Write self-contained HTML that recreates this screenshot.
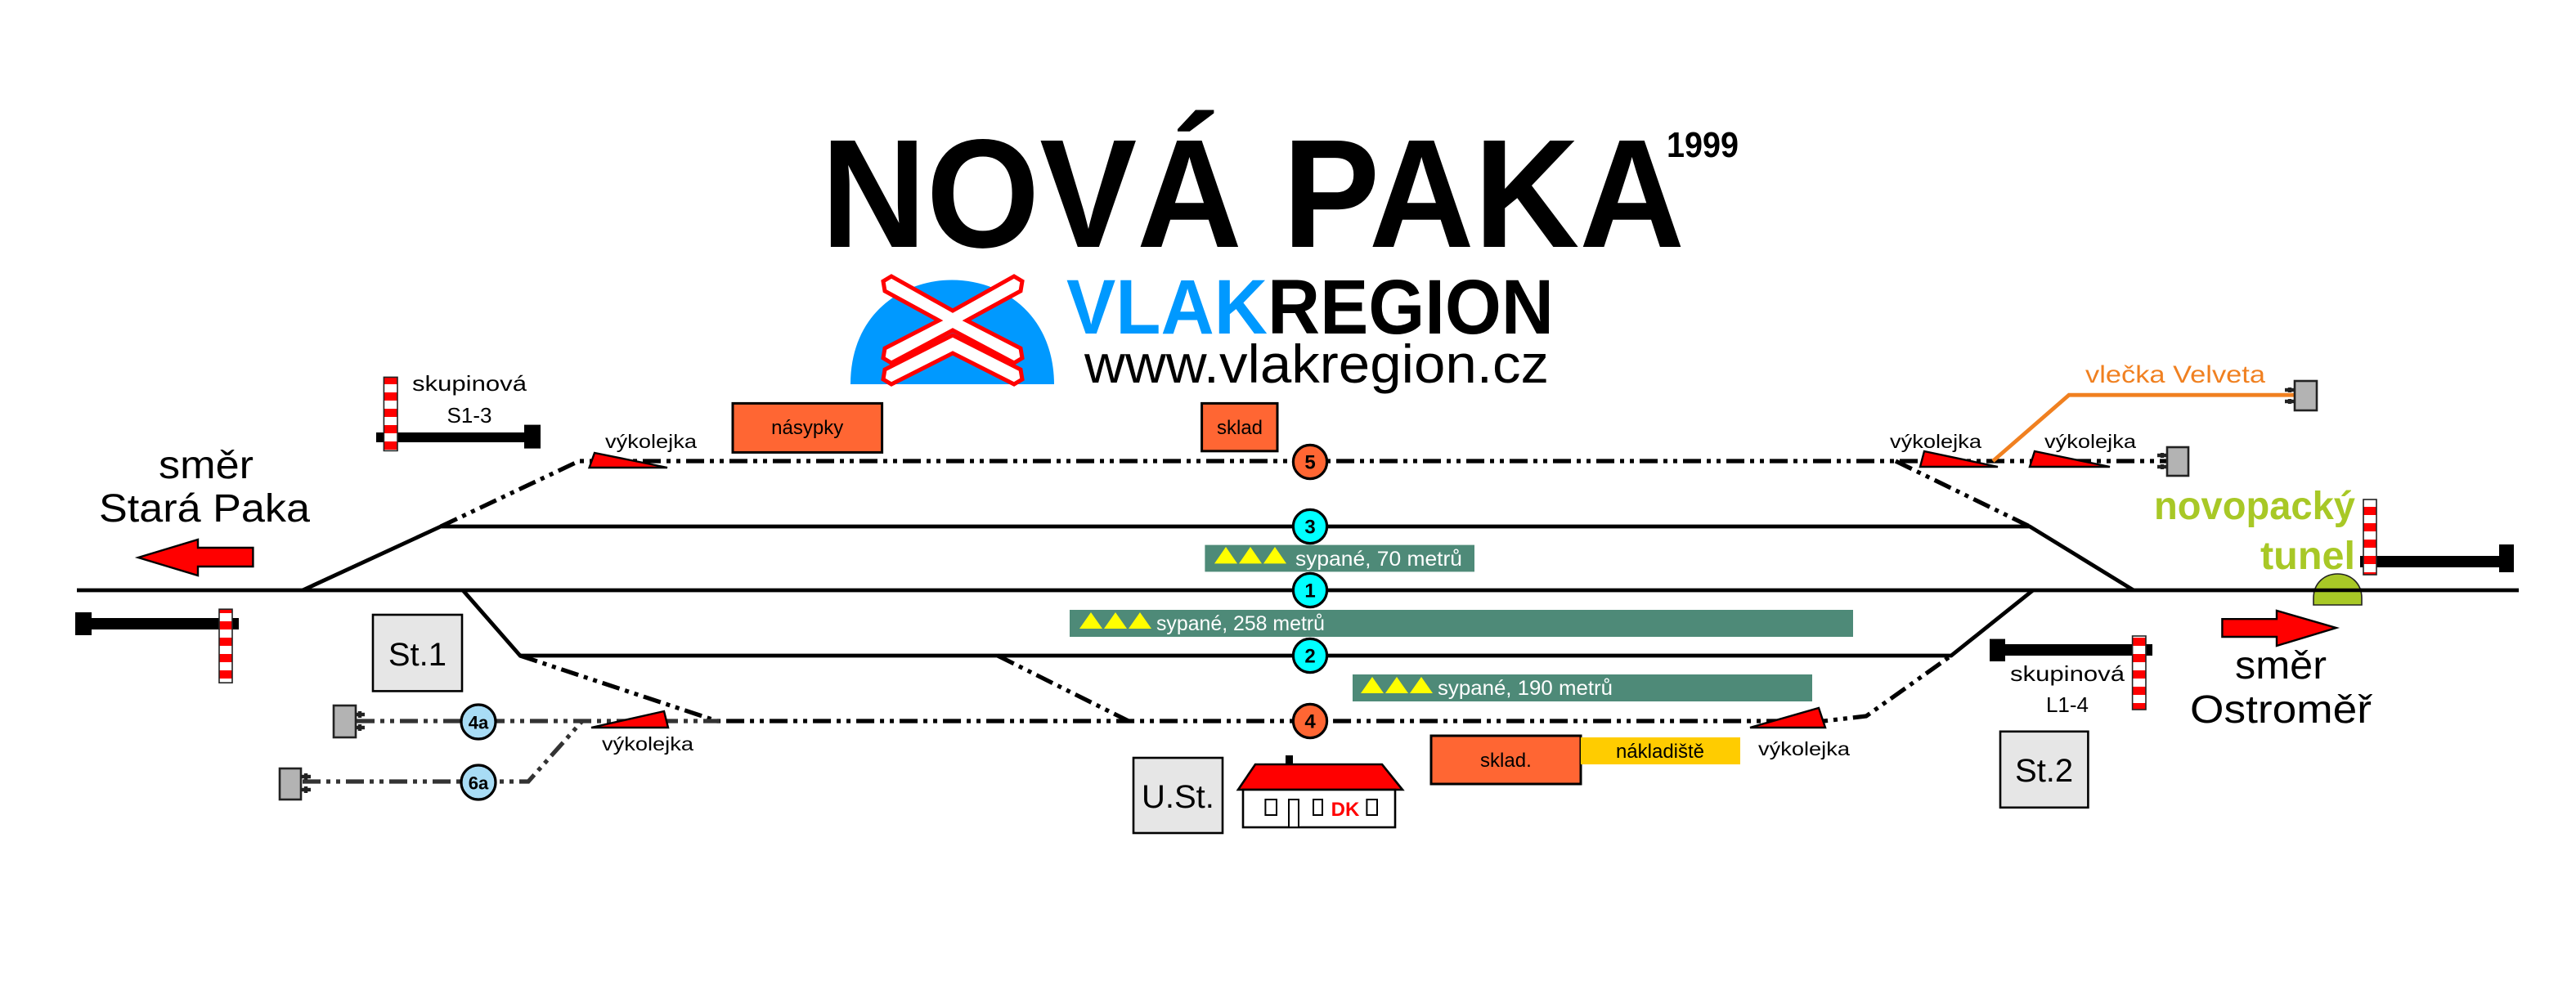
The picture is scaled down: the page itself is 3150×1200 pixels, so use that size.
<!DOCTYPE html>
<html><head><meta charset="utf-8"><style>
html,body{margin:0;padding:0;background:#fff;}
svg{display:block;}
text{font-family:"Liberation Sans",sans-serif;}
</style></head><body>
<svg width="3150" height="1200" viewBox="0 0 1575 600" xmlns="http://www.w3.org/2000/svg">
<rect width="1575" height="600" fill="#fff"/>

<!-- Title -->
<text x="502" y="151" font-size="94.5" font-weight="bold" textLength="528" lengthAdjust="spacingAndGlyphs">NOVÁ PAKA</text>
<text x="1019" y="96" font-size="22" font-weight="bold" textLength="44" lengthAdjust="spacingAndGlyphs">1999</text>

<!-- Logo -->
<path d="M520,235 C520,150 644,150 644.5,235 Z" fill="#0099ff"/>
<g stroke="#ff0000" stroke-width="2.5" fill="#fff" stroke-linejoin="miter">
<polygon points="540,172 545,169 582.5,190 620,169 625,172 624,178 591,196 624,213 625,219 620,222 582.5,202 545,222 540,219 541,213 574,196 541,178"/>
<polygon points="582.5,205 624,226 625,232 620,235 582.5,216 545,235 540,232 541,226"/>
</g>
<text x="652" y="204" font-size="47.5" font-weight="bold" fill="#0099ff" textLength="123" lengthAdjust="spacingAndGlyphs">VLAK</text>
<text x="775" y="204" font-size="47.5" font-weight="bold" fill="#000" textLength="175" lengthAdjust="spacingAndGlyphs">REGION</text>
<text x="663" y="234" font-size="33" fill="#000" textLength="284" lengthAdjust="spacingAndGlyphs">www.vlakregion.cz</text>

<!-- Tracks solid -->
<g stroke="#000" stroke-width="2.4" fill="none">
<line x1="47" y1="361" x2="1540" y2="361"/>
<polyline points="185,361 269.5,322 1241,322 1304.5,361"/>
<polyline points="283,361 318,401 1193,401 1243,361"/>
</g>
<!-- dash-dot tracks -->
<g stroke="#000" stroke-width="2.6" fill="none" stroke-dasharray="11 3.5 2.5 3.5 2.5 3.5">
<polyline points="269.5,322 354,282 1325,282"/>
<line x1="1159" y1="282" x2="1241" y2="322"/>
<polyline points="318,401 438.5,441 1115,441 1141,438 1193,401"/>
<line x1="610" y1="401" x2="690" y2="441"/>
</g>
<g stroke="#333" stroke-width="2.6" fill="none" stroke-dasharray="11 3.5 2.5 3.5 2.5 3.5">
<line x1="218" y1="441" x2="440" y2="441"/>
<polyline points="185,478 323,478 356,441"/>
</g>
<!-- orange siding -->
<polyline points="1218.5,282 1265,241.6 1403,241.6" stroke="#f08020" stroke-width="2.4" fill="none"/>
<text x="1275" y="234" font-size="15" fill="#f08020" textLength="110" lengthAdjust="spacingAndGlyphs">vlečka Velveta</text>

<!-- buffers -->
<g fill="#b3b3b3" stroke="#222" stroke-width="1.3">
<rect x="1403" y="233" width="13.5" height="18"/>
<rect x="1325" y="273.5" width="13" height="17.5"/>
<rect x="204" y="431.5" width="13.5" height="19.5"/>
<rect x="171" y="470" width="13" height="19"/>
</g>
<g stroke="#222" stroke-width="2.2">
<line x1="1400" y1="237" x2="1400" y2="240"/><line x1="1400" y1="244" x2="1400" y2="247"/>
<line x1="1397" y1="238.5" x2="1403" y2="238.5"/><line x1="1397" y1="245.5" x2="1403" y2="245.5"/>
<line x1="1322" y1="277" x2="1322" y2="280"/><line x1="1322" y1="284" x2="1322" y2="287"/>
<line x1="1319" y1="278.5" x2="1325" y2="278.5"/><line x1="1319" y1="285.5" x2="1325" y2="285.5"/>
<line x1="220" y1="435" x2="220" y2="439"/><line x1="220" y1="443" x2="220" y2="447"/>
<line x1="217" y1="437" x2="223" y2="437"/><line x1="217" y1="445" x2="223" y2="445"/>
<line x1="187" y1="473" x2="187" y2="477"/><line x1="187" y1="481" x2="187" y2="485"/>
<line x1="184" y1="475" x2="190" y2="475"/><line x1="184" y1="483" x2="190" y2="483"/>
</g>

<!-- derailers -->
<g fill="#ff0000" stroke="#000" stroke-width="1.2" stroke-linejoin="miter">
<polygon points="363.5,277 360.3,286 408,286"/>
<polygon points="1176.5,276 1174,285.5 1221.5,285.5"/>
<polygon points="1244,276 1241,285.5 1290,285.5"/>
<polygon points="361.5,445 406,435 408.5,445"/>
<polygon points="1070,445 1112,433 1116,445"/>
</g>
<g font-size="11.5" fill="#000">
<text x="370" y="274" textLength="56" lengthAdjust="spacingAndGlyphs">výkolejka</text>
<text x="1155.5" y="274" textLength="56" lengthAdjust="spacingAndGlyphs">výkolejka</text>
<text x="1250" y="274" textLength="56" lengthAdjust="spacingAndGlyphs">výkolejka</text>
<text x="368" y="459" textLength="56" lengthAdjust="spacingAndGlyphs">výkolejka</text>
<text x="1075" y="462" textLength="56" lengthAdjust="spacingAndGlyphs">výkolejka</text>
</g>

<!-- boxes -->
<g stroke="#000" stroke-width="1.5">
<rect x="448" y="246.7" width="91.3" height="30" fill="#ff6633"/>
<rect x="734.8" y="246.7" width="46.2" height="29.2" fill="#ff6633"/>
<rect x="875" y="450" width="91.5" height="29.5" fill="#ff6633"/>
</g>
<rect x="966.5" y="451" width="97.5" height="16.5" fill="#ffcc00"/>
<g font-size="12" fill="#000" text-anchor="middle">
<text x="493.6" y="265.5">násypky</text>
<text x="758" y="265.5">sklad</text>
<text x="920.7" y="469">sklad.</text>
<text x="1015" y="463.5">nákladiště</text>
</g>

<!-- green bars -->
<g fill="#4e8a78">
<rect x="736.7" y="333.3" width="164.8" height="16.4"/>
<rect x="654" y="373" width="479" height="16.5"/>
<rect x="827" y="412.5" width="281" height="16.5"/>
</g>
<g fill="#ffff00">
<polygon points="742.5,344.7 749.5,334.5 756.5,344.7"/>
<polygon points="757.5,344.7 764.5,334.5 771.5,344.7"/>
<polygon points="772.5,344.7 779.5,334.5 786.5,344.7"/>
<polygon points="660,384.5 667,374.5 674,384.5"/>
<polygon points="675,384.5 682,374.5 689,384.5"/>
<polygon points="690,384.5 697,374.5 704,384.5"/>
<polygon points="832,424 839,414 846,424"/>
<polygon points="847,424 854,414 861,424"/>
<polygon points="862,424 869,414 876,424"/>
</g>
<g font-size="12.5" fill="#fff">
<text x="792" y="346" textLength="102" lengthAdjust="spacingAndGlyphs">sypané, 70 metrů</text>
<text x="707" y="385.5" textLength="103" lengthAdjust="spacingAndGlyphs">sypané, 258 metrů</text>
<text x="879" y="425" textLength="107" lengthAdjust="spacingAndGlyphs">sypané, 190 metrů</text>
</g>

<!-- circles -->
<g stroke="#000" stroke-width="1.6">
<circle cx="801" cy="282.5" r="10.3" fill="#ff6633"/>
<circle cx="801" cy="322" r="10.3" fill="#00ffff"/>
<circle cx="801" cy="361" r="10.3" fill="#00ffff"/>
<circle cx="801" cy="401" r="10.3" fill="#00ffff"/>
<circle cx="801" cy="441" r="10.3" fill="#ff6633"/>
<circle cx="292.5" cy="441.5" r="10.5" fill="#a8dcf5"/>
<circle cx="292.5" cy="478.5" r="10.5" fill="#a8dcf5"/>
</g>
<g font-size="12" font-weight="bold" fill="#000" text-anchor="middle">
<text x="801" y="286.8">5</text>
<text x="801" y="326.3">3</text>
<text x="801" y="365.3">1</text>
<text x="801" y="405.3">2</text>
<text x="801" y="445.3">4</text>
<text x="292.5" y="445.8" font-size="11">4a</text>
<text x="292.5" y="482.8" font-size="11">6a</text>
</g>

<!-- St boxes -->
<g fill="#e6e6e6" stroke="#000" stroke-width="1.3">
<rect x="228" y="376" width="54.5" height="46.7"/>
<rect x="1223" y="447.4" width="53.7" height="46.5"/>
<rect x="693" y="463.5" width="54.5" height="46"/>
</g>
<g font-size="20" fill="#000" text-anchor="middle">
<text x="255.2" y="407">St.1</text>
<text x="1249.8" y="478">St.2</text>
<text x="720.2" y="494">U.St.</text>
</g>

<!-- station building -->
<rect x="786" y="462" width="4.5" height="8" fill="#000"/>
<polygon points="767.5,467.5 845,467.5 857.5,483 757,483" fill="#ff0000" stroke="#000" stroke-width="1.3"/>
<rect x="760" y="483" width="93" height="23" fill="#fff" stroke="#000" stroke-width="1.3"/>
<g fill="#fff" stroke="#000" stroke-width="1">
<rect x="773.7" y="489" width="6.8" height="9.5"/>
<rect x="788" y="489" width="6" height="17"/>
<rect x="803" y="489" width="5.5" height="9.5"/>
<rect x="835.7" y="489" width="6.3" height="9.5"/>
</g>
<text x="822.5" y="499" font-size="12" font-weight="bold" fill="#ff0000" text-anchor="middle">DK</text>

<!-- signals -->
<g fill="#000">
<rect x="230" y="264.5" width="92" height="6"/>
<rect x="320.5" y="259.8" width="10" height="14.5"/>
<rect x="46" y="378" width="100" height="7"/>
<rect x="46" y="374.5" width="10" height="14"/>
<rect x="1217" y="394" width="99" height="7"/>
<rect x="1216.5" y="390.8" width="9.5" height="13.7"/>
<rect x="1443" y="340" width="93" height="7"/>
<rect x="1528" y="333" width="9" height="17"/>
</g>
<defs>
<pattern id="rw" width="8" height="10" patternUnits="userSpaceOnUse">
<rect width="8" height="5" fill="#ff0000"/><rect y="5" width="8" height="5" fill="#fff"/>
</pattern>
</defs>
<g stroke="#222" stroke-width="0.8">
<rect x="234.7" y="230.7" width="8.3" height="45" fill="url(#rw)"/>
<rect x="134" y="372.6" width="8" height="45" fill="url(#rw)"/>
<rect x="1303.8" y="389" width="8.2" height="45" fill="url(#rw)"/>
<rect x="1445" y="305.5" width="8" height="46" fill="url(#rw)"/>
</g>
<g font-size="13" fill="#000" text-anchor="middle">
<text x="287" y="239" textLength="70" lengthAdjust="spacingAndGlyphs">skupinová</text>
<text x="287" y="258.5">S1-3</text>
<text x="1264" y="416.5" textLength="70" lengthAdjust="spacingAndGlyphs">skupinová</text>
<text x="1264" y="435.5">L1-4</text>
</g>

<!-- tunnel -->
<path d="M1414.5,370 L1414.5,366 C1414.5,346 1444,346 1444,366 L1444,370 Z" fill="#a8c826" stroke="#222" stroke-width="0.8"/>
<line x1="1414" y1="361" x2="1444" y2="361" stroke="#000" stroke-width="2.2"/>
<text x="1440" y="317.5" font-size="24" font-weight="bold" fill="#a8c826" text-anchor="end" textLength="123" lengthAdjust="spacingAndGlyphs">novopacký</text>
<text x="1440" y="348" font-size="24" font-weight="bold" fill="#a8c826" text-anchor="end" textLength="58" lengthAdjust="spacingAndGlyphs">tunel</text>

<!-- arrows -->
<polygon points="84.5,341 121,330 121,335 154.7,335 154.7,346.5 121,346.5 121,352" fill="#ff0000" stroke="#000" stroke-width="1.2"/>
<polygon points="1428.4,384 1392,373.5 1392,378.6 1358.7,378.6 1358.7,389.5 1392,389.5 1392,395" fill="#ff0000" stroke="#000" stroke-width="1.2"/>

<!-- direction labels -->
<g font-size="24" fill="#000" text-anchor="middle">
<text x="126" y="292.5" textLength="58" lengthAdjust="spacingAndGlyphs">směr</text>
<text x="125" y="319" textLength="129" lengthAdjust="spacingAndGlyphs">Stará Paka</text>
<text x="1394.5" y="415" textLength="56" lengthAdjust="spacingAndGlyphs">směr</text>
<text x="1394.5" y="442" textLength="111" lengthAdjust="spacingAndGlyphs">Ostroměř</text>
</g>
</svg>
</body></html>
